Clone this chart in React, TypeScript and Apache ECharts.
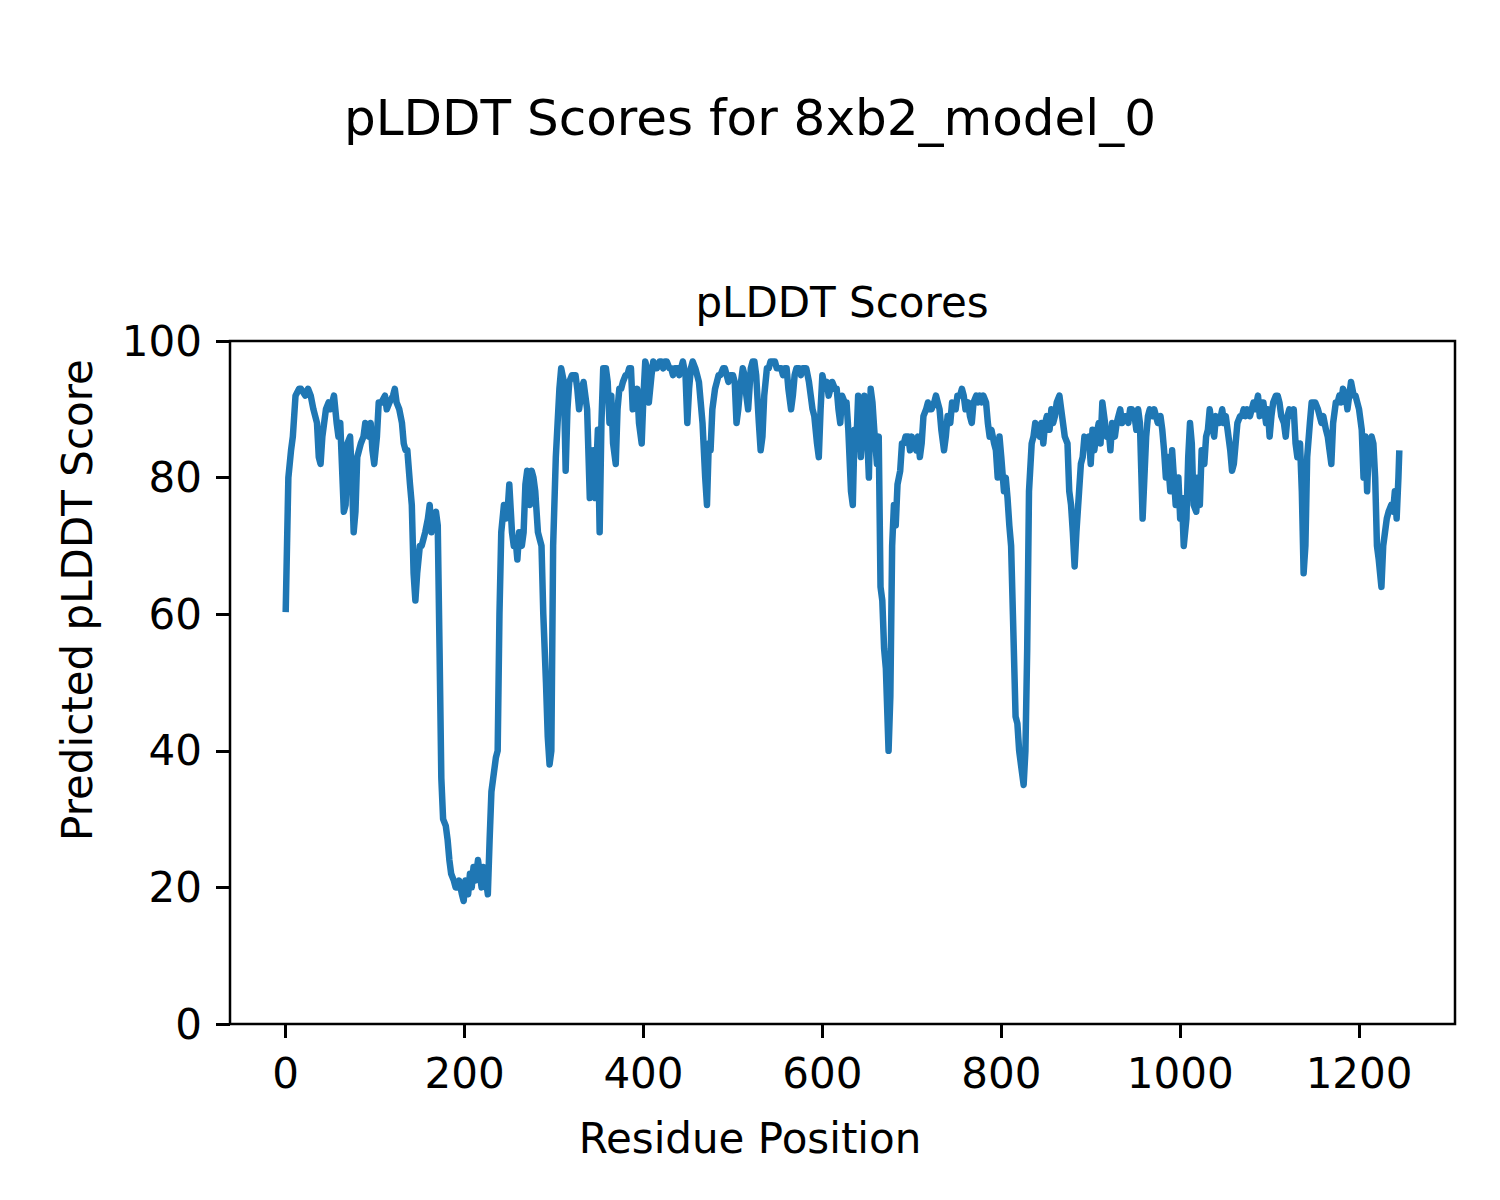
import React, { useEffect, useRef } from "react";
import * as echarts from "echarts";

const positions: number[] = [
  0, 3, 6, 8, 11, 15, 17, 22, 25, 28, 31, 35, 37, 39, 41, 45, 48, 50, 54, 57, 59, 61, 65, 67, 69, 72, 74, 76, 78, 80,
  84, 87, 89, 93, 95, 97, 99, 102, 104, 107, 111, 113, 116, 120, 122, 124, 127, 130, 132, 134, 136, 139, 141, 143, 145,
  147, 150, 152, 154, 156, 159, 161, 163, 165, 168, 170, 172, 174, 176, 179, 181, 183, 185, 188, 190, 192, 194, 197,
  199, 201, 204, 206, 208, 210, 212, 215, 217, 219, 221, 224, 226, 228, 230, 232, 235, 237, 239, 241, 244, 246, 248,
  250, 253, 255, 257, 259, 261, 264, 266, 268, 270, 273, 275, 277, 279, 282, 284, 286, 288, 291, 293, 295, 297, 299,
  302, 304, 306, 308, 311, 313, 315, 317, 320, 322, 324, 326, 328, 331, 333, 335, 337, 340, 342, 344, 346, 349, 351,
  353, 355, 358, 360, 362, 364, 366, 369, 371, 373, 375, 377, 380, 382, 384, 386, 388, 391, 393, 395, 398, 400, 402,
  404, 406, 409, 411, 413, 415, 418, 420, 422, 424, 426, 429, 431, 433, 435, 438, 440, 442, 444, 447, 449, 451, 453,
  455, 458, 460, 462, 464, 466, 469, 471, 473, 475, 477, 480, 482, 484, 486, 489, 491, 493, 495, 497, 500, 502, 504,
  506, 508, 511, 513, 515, 517, 520, 522, 524, 526, 529, 531, 533, 535, 538, 540, 542, 545, 547, 549, 551, 554, 556,
  558, 560, 562, 565, 567, 569, 571, 574, 576, 578, 580, 582, 585, 587, 589, 591, 594, 596, 598, 600, 603, 605, 607,
  609, 611, 614, 616, 618, 620, 622, 625, 627, 629, 632, 634, 636, 638, 640, 643, 645, 647, 649, 652, 654, 656, 658,
  661, 663, 665, 667, 669, 671, 674, 676, 678, 680, 682, 684, 687, 689, 691, 693, 696, 698, 700, 702, 705, 707, 709,
  711, 713, 716, 718, 720, 722, 725, 727, 729, 731, 733, 736, 738, 740, 743, 745, 747, 749, 751, 754, 756, 758, 760,
  763, 765, 767, 769, 772, 774, 776, 778, 780, 783, 785, 787, 789, 792, 794, 796, 798, 800, 803, 805, 807, 809, 811,
  813, 816, 818, 820, 822, 825, 827, 829, 831, 834, 836, 838, 840, 843, 845, 847, 849, 851, 854, 856, 858, 860, 862,
  865, 867, 869, 871, 874, 876, 878, 880, 882, 884, 887, 889, 891, 893, 895, 898, 900, 902, 904, 906, 909, 911, 913,
  915, 918, 920, 922, 924, 927, 929, 931, 933, 935, 938, 940, 942, 944, 946, 949, 951, 953, 955, 958, 960, 962, 964,
  966, 969, 971, 973, 975, 978, 980, 982, 984, 986, 989, 991, 993, 995, 998, 1000, 1002, 1004, 1007, 1009, 1011, 1013,
  1015, 1018, 1020, 1022, 1024, 1027, 1029, 1031, 1033, 1035, 1038, 1040, 1042, 1044, 1047, 1049, 1051, 1053, 1056,
  1058, 1060, 1062, 1064, 1067, 1069, 1071, 1073, 1075, 1078, 1080, 1082, 1084, 1087, 1089, 1091, 1093, 1096, 1098,
  1100, 1102, 1104, 1107, 1109, 1111, 1113, 1116, 1118, 1120, 1122, 1125, 1127, 1129, 1131, 1134, 1136, 1138, 1140,
  1142, 1145, 1147, 1149, 1151, 1154, 1156, 1158, 1160, 1163, 1165, 1167, 1169, 1171, 1174, 1176, 1178, 1180, 1182,
  1185, 1187, 1189, 1191, 1194, 1196, 1198, 1200, 1203, 1205, 1207, 1209, 1211, 1214, 1216, 1218, 1220, 1222, 1225,
  1227, 1229, 1231, 1233, 1236, 1238, 1240, 1242, 1244, 1245,
];

const scores: number[] = [
  60.3, 80, 84, 86, 92, 93, 93, 92, 93, 92, 90, 88, 83, 82, 86, 90, 91, 90, 92, 88, 86, 88, 75, 76, 85, 86, 80, 72, 75,
  83, 85, 86, 88, 86, 88, 84, 82, 86, 91, 91, 92, 90, 91, 92, 93, 91, 90, 88, 85, 84, 84, 79, 76, 66, 62, 66, 70, 70,
  71, 72, 74, 76, 72, 74, 75, 73, 55, 36, 30, 29, 27, 24, 22, 21, 20, 20, 21, 19, 18, 21, 19, 22, 20, 23, 21, 24, 22,
  20, 23, 21, 19, 27, 34, 36, 39, 40, 60, 72, 76, 74, 75, 79, 72, 70, 71, 68, 72, 70, 72, 79, 81, 76, 81, 80, 78, 72,
  71, 70, 60, 50, 42, 38, 40, 70, 83, 88, 93, 96, 94, 81, 90, 94, 95, 95, 95, 93, 90, 93, 94, 92, 90, 77, 78, 84, 77,
  87, 72, 88, 96, 96, 94, 88, 92, 85, 82, 90, 93, 93, 94, 95, 95, 96, 96, 90, 92, 93, 88, 85, 92, 97, 96, 91, 95, 97,
  96, 96, 97, 97, 96, 97, 97, 96, 96, 95, 96, 96, 95, 96, 97, 95, 88, 93, 96, 97, 96, 95, 94, 91, 88, 80, 76, 85, 84,
  90, 93, 94, 95, 95, 96, 96, 95, 94, 95, 95, 94, 88, 90, 93, 96, 95, 92, 90, 96, 97, 97, 95, 88, 84, 86, 92, 96, 96,
  97, 97, 97, 96, 96, 96, 95, 96, 96, 93, 90, 92, 95, 96, 96, 95, 96, 96, 96, 94, 92, 90, 89, 85, 83, 90, 95, 93, 94,
  92, 93, 94, 93, 93, 90, 88, 92, 91, 91, 87, 78, 76, 87, 85, 92, 83, 87, 92, 90, 80, 93, 91, 87, 82, 86, 64, 62, 55,
  52, 40, 48, 70, 76, 73, 79, 81, 85, 85, 86, 86, 84, 86, 85, 84, 86, 83, 85, 89, 90, 91, 90, 90, 91, 92, 91, 90, 87,
  84, 86, 89, 88, 91, 90, 90, 92, 92, 93, 92, 90, 91, 89, 88, 91, 92, 91, 92, 91, 92, 91, 88, 86, 87, 85, 84, 80, 86,
  83, 78, 80, 77, 73, 70, 60, 45, 44, 40, 38, 35, 40, 55, 78, 85, 86, 88, 87, 86, 88, 85, 88, 89, 87, 90, 88, 89, 91,
  92, 90, 88, 86, 85, 78, 76, 72, 67, 72, 78, 82, 83, 86, 85, 86, 82, 87, 84, 86, 88, 85, 91, 89, 86, 87, 84, 88, 86,
  88, 89, 90, 88, 89, 89, 88, 90, 90, 89, 87, 90, 88, 74, 80, 86, 89, 90, 89, 90, 89, 88, 89, 87, 84, 80, 83, 78, 84,
  80, 76, 80, 74, 77, 70, 74, 83, 88, 85, 76, 75, 80, 76, 84, 82, 86, 87, 90, 88, 86, 89, 88, 88, 90, 88, 89, 87, 84,
  81, 82, 85, 88, 89, 89, 90, 89, 90, 89, 90, 91, 90, 92, 89, 91, 91, 88, 90, 86, 89, 91, 92, 92, 91, 89, 88, 86, 89,
  90, 89, 90, 85, 83, 85, 78, 66, 70, 83, 88, 91, 91, 91, 90, 89, 88, 89, 87, 86, 84, 82, 88, 91, 91, 92, 91, 93, 92,
  90, 92, 94, 92, 92, 91, 90, 87, 80, 86, 78, 85, 86, 85, 80, 70, 68, 64, 70, 72, 74, 75, 76, 75, 78, 74, 80, 84,
];

const xTicks: number[] = [0, 200, 400, 600, 800, 1000, 1200];
const yTicks: number[] = [0, 20, 40, 60, 80, 100];

const FONT = "DejaVu Sans";

export default function App() {
  const ref = useRef<HTMLDivElement>(null);
  useEffect(() => {
    if (!ref.current) return;
    const chart = echarts.init(ref.current, null, { renderer: "svg" });
    const data = positions.map((p, i) => [p, scores[i]]);
    chart.setOption({
      animation: false,
      backgroundColor: "#ffffff",
      grid: {
        left: 230,
        top: 341,
        width: 1225,
        height: 683,
        show: true,
        borderColor: "#000",
        borderWidth: 2.5,
        backgroundColor: "transparent",
      },
      xAxis: {
        type: "value",
        min: -62.25,
        max: 1307.25,
        axisLine: { show: false, onZero: false },
        splitLine: { show: false },
        axisTick: {
          show: true,
          length: 14,
          customValues: xTicks,
          lineStyle: { color: "#000", width: 3 },
        },
        axisLabel: {
          customValues: xTicks,
          margin: 28,
          fontFamily: FONT,
          fontSize: 42,
          color: "#000",
          formatter: (v: number) => String(v),
        },
      },
      yAxis: {
        type: "value",
        min: 0,
        max: 100,
        interval: 20,
        axisLine: { show: false, onZero: false },
        splitLine: { show: false },
        axisTick: {
          show: true,
          length: 14,
          customValues: yTicks,
          lineStyle: { color: "#000", width: 3 },
        },
        axisLabel: {
          customValues: yTicks,
          margin: 28,
          fontFamily: FONT,
          fontSize: 42,
          color: "#000",
          formatter: (v: number) => String(v),
        },
      },
      series: [
        {
          type: "line",
          data,
          showSymbol: false,
          symbol: "none",
          lineStyle: { color: "#1f77b4", width: 6.5, join: "round", cap: "butt" },
          itemStyle: { color: "#1f77b4" },
        },
      ],
      graphic: [
        {
          type: "text",
          left: "center",
          top: 93,
          style: { text: "pLDDT Scores for 8xb2_model_0", fontFamily: FONT, fontSize: 50, fill: "#000" },
        },
        {
          type: "text",
          x: 842,
          y: 302,
          style: {
            text: "pLDDT Scores",
            fontFamily: FONT,
            fontSize: 42,
            fill: "#000",
            textAlign: "center",
            textVerticalAlign: "middle",
          },
        },
        {
          type: "text",
          x: 750,
          y: 1138,
          style: {
            text: "Residue Position",
            fontFamily: FONT,
            fontSize: 42,
            fill: "#000",
            textAlign: "center",
            textVerticalAlign: "middle",
          },
        },
        {
          type: "text",
          x: 77,
          y: 600,
          rotation: Math.PI / 2,
          style: {
            text: "Predicted pLDDT Score",
            fontFamily: FONT,
            fontSize: 42,
            fill: "#000",
            textAlign: "center",
            textVerticalAlign: "middle",
          },
        },
      ],
    });
    return () => chart.dispose();
  }, []);
  return (
    <div
      ref={ref}
      style={{ position: "absolute", left: 0, top: 0, width: 1500, height: 1200 }}
    />
  );
}
